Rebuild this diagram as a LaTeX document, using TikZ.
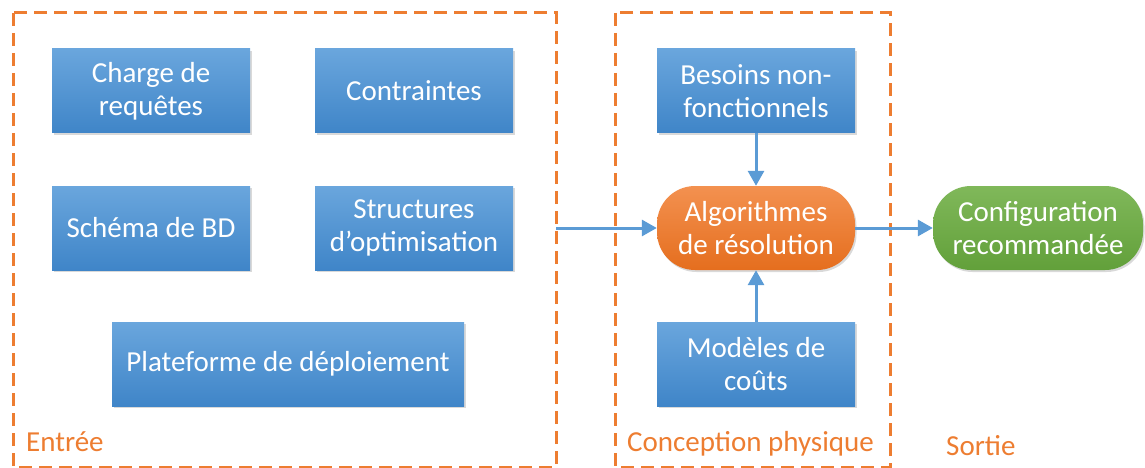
\documentclass[tikz,border=0pt]{standalone}
\usepackage{fontspec}
\setmainfont{Carlito}
\usetikzlibrary{arrows.meta,positioning,shadows}
\definecolor{bluetop}{HTML}{6AA6DD}
\definecolor{bluebot}{HTML}{3F85C8}
\definecolor{orangetop}{HTML}{F39150}
\definecolor{orangebot}{HTML}{E56E1E}
\definecolor{greentop}{HTML}{80B85A}
\definecolor{greenbot}{HTML}{62A03A}
\definecolor{grpcol}{HTML}{ED7D31}
\definecolor{arrowcol}{HTML}{5B9BD5}

\begin{document}
\begin{tikzpicture}[x=1pt,y=-1pt,
  box/.style={rectangle,minimum width=198pt,minimum height=84pt,inner sep=2pt,
    top color=bluetop,bottom color=bluebot,text=white,align=center,
    font=\fontsize{29}{33}\selectfont,
    drop shadow={shadow xshift=1.5pt,shadow yshift=-2pt,opacity=0.3}},
  pill/.style={box,rounded corners=38pt},
  grp/.style={draw=grpcol,line width=3pt,dash pattern=on 13pt off 7pt},
  lbl/.style={text=grpcol,inner sep=0pt,font=\fontsize{29}{33}\selectfont},
  link/.style={draw=arrowcol,line width=3pt,-{Triangle[length=15pt,width=16pt]}}]
  \useasboundingbox (0,0) rectangle (1145,468);

  % groupes
  \draw[grp] (13,13) rectangle (556,467);
  \draw[grp] (615,13) rectangle (890,467);
  \node[lbl,anchor=base west] (entree) at (26,451) {Entrée};
  \node[lbl,anchor=base west] (conception) at (627,451) {Conception physique};
  \node[lbl,anchor=base west] (sortie) at (946,455) {Sortie};

  % entree
  \node[box] (charge) at (151,91) {Charge de\\requêtes};
  \node[box] (contraintes) at (414,91) {Contraintes};
  \node[box] (schema) at (151,228) {Schéma de BD};
  \node[box] (structures) at (414,228) {Structures\\d’optimisation};
  \node[box,minimum width=352pt] (plateforme) at (288,364) {Plateforme de déploiement};

  % conception physique
  \node[box] (besoins) at (756,91) {Besoins non-\\fonctionnels};
  \node[pill,top color=orangetop,bottom color=orangebot] (algo) at (756,228) {Algorithmes\\de résolution};
  \node[box] (modeles) at (756,364) {Modèles de\\coûts};

  % sortie
  \node[pill,minimum width=210pt,top color=greentop,bottom color=greenbot] (config) at (1038,228) {Configuration\\recommandée};

  \coordinate (entreeout) at (556,228);
  \draw[link] (entreeout) -- (algo);
  \draw[link] (algo) -- (config);
  \draw[link] (besoins) -- (algo);
  \draw[link] (modeles) -- (algo);
\end{tikzpicture}
\end{document}
